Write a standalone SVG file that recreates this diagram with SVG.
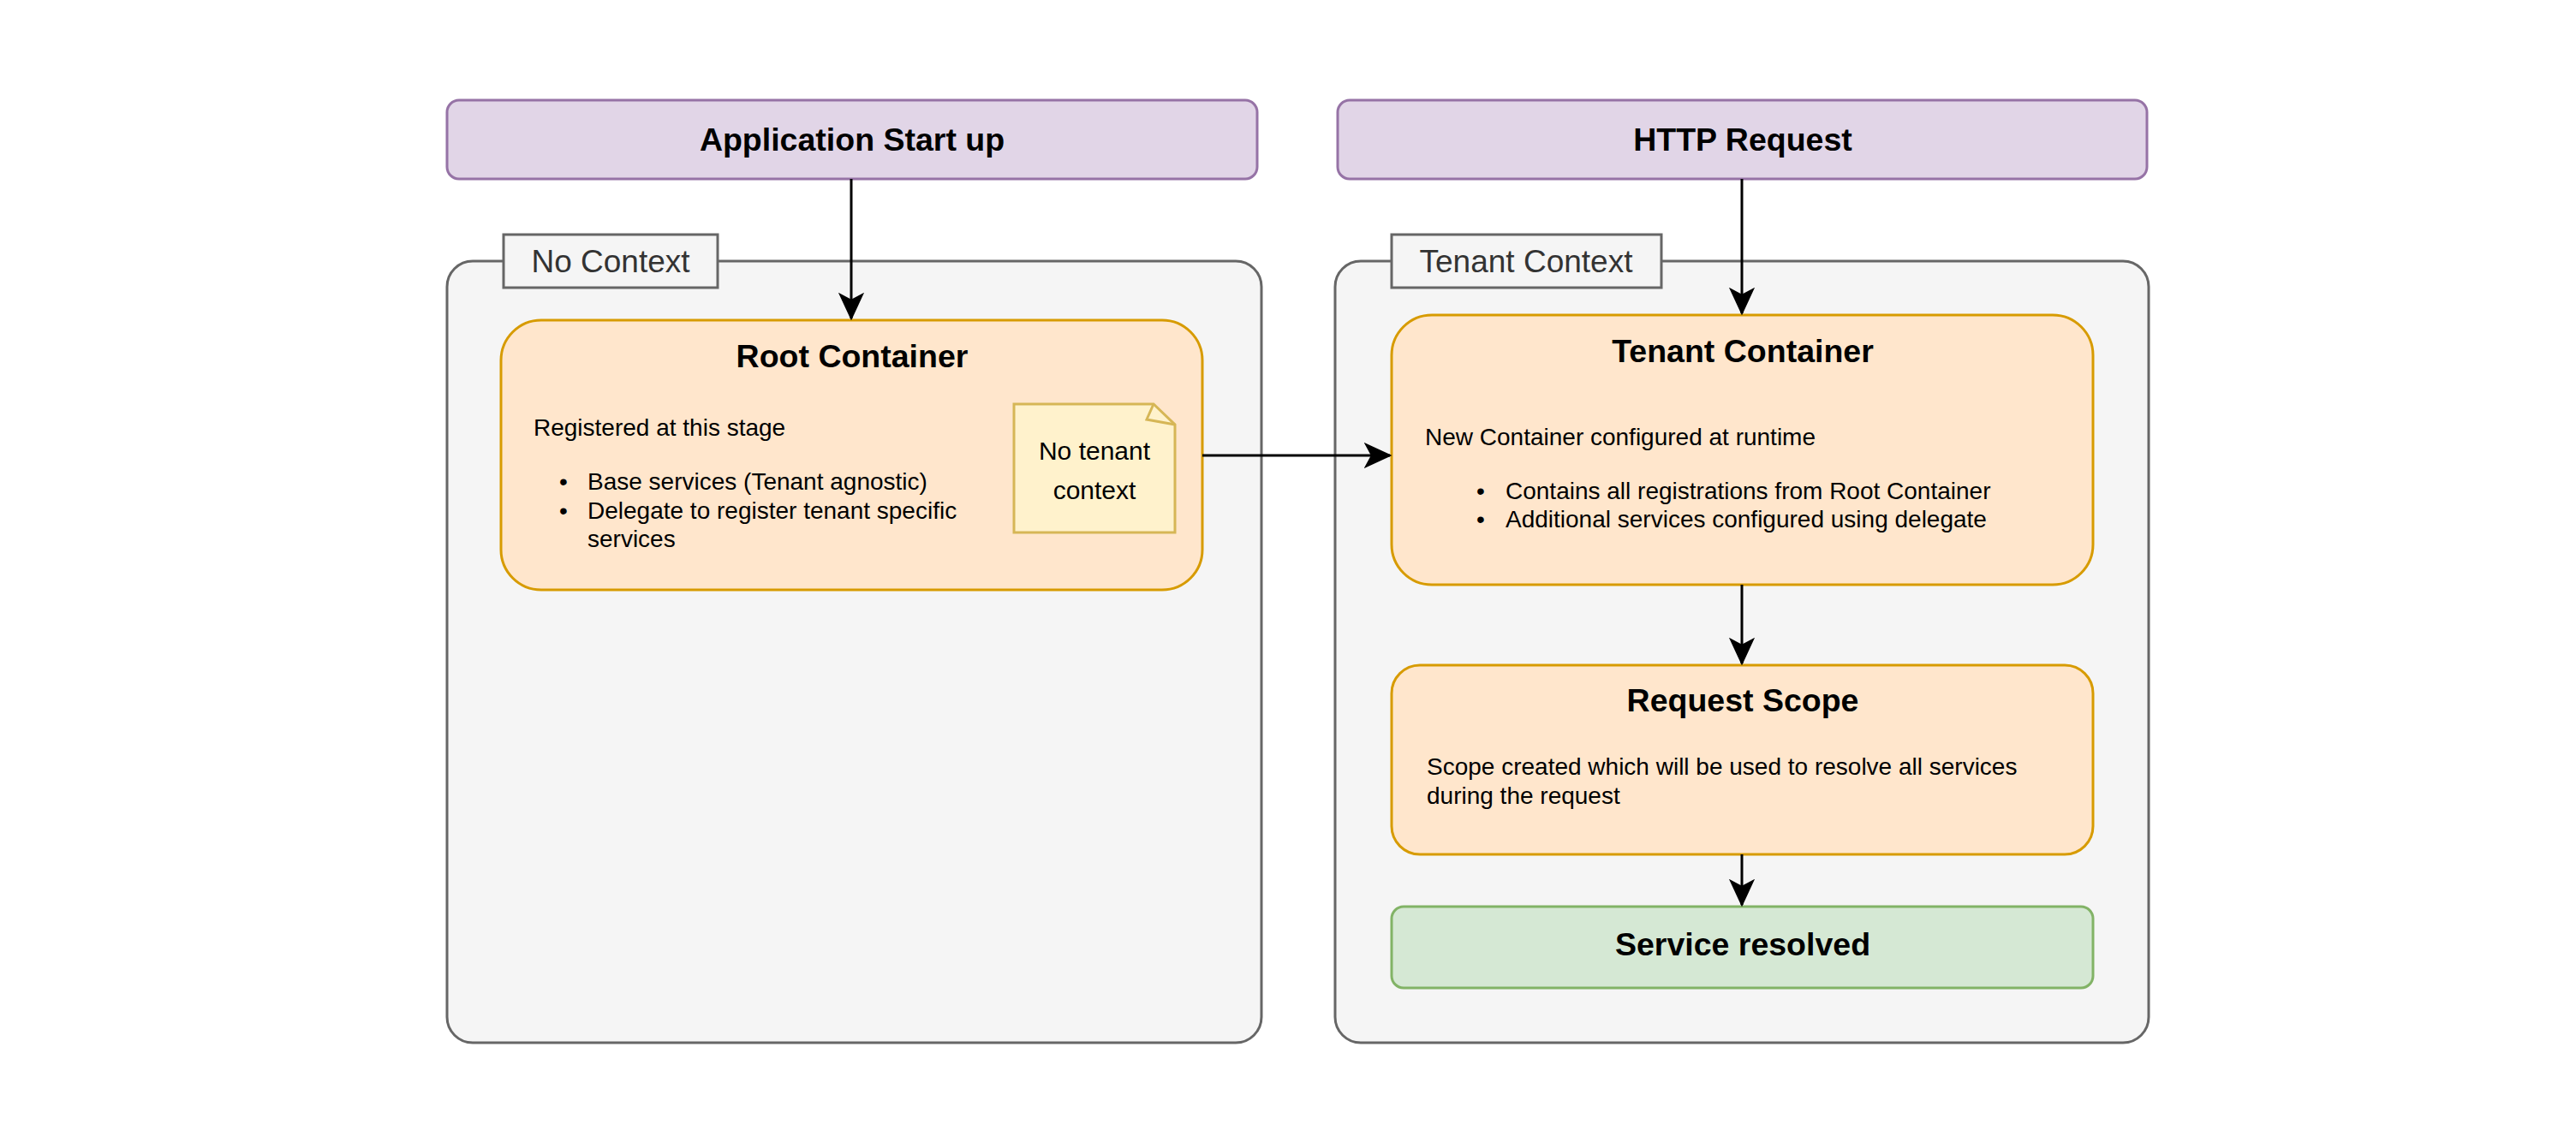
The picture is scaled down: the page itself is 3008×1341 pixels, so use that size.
<svg xmlns="http://www.w3.org/2000/svg" width="3008" height="1341" viewBox="0 0 3008 1341">
<style>
text{font-family:"Liberation Sans",Arial,sans-serif;fill:#000}
.title{font-size:37.5px;font-weight:bold;text-anchor:middle}
.body{font-size:28px}
.lbl{font-size:37px;fill:#333333;text-anchor:middle}
.note{font-size:30px;text-anchor:middle}
.purple{fill:#e1d5e7;stroke:#9673a6;stroke-width:3}
.orange{fill:#ffe6cc;stroke:#d79b00;stroke-width:3}
.green{fill:#d5e8d4;stroke:#82b366;stroke-width:3}
.cont{fill:#f5f5f5;stroke:#666666;stroke-width:3}
.edge{fill:none;stroke:#000;stroke-width:3;marker-end:url(#arr)}
</style>
<defs>
<marker id="arr" viewBox="-30 -15 32 30" refX="0" refY="0" markerWidth="32" markerHeight="30" markerUnits="userSpaceOnUse" orient="auto">
<path d="M0,0 L-28,-13 L-21,0 L-28,13 Z" fill="#000" stroke="#000" stroke-width="2"/>
</marker>
</defs>
<rect width="3008" height="1341" fill="#ffffff"/>

<g id="no-context">
<rect class="cont" x="522" y="305" width="951" height="913" rx="30"/>
<rect class="cont" x="588" y="274" width="250" height="62"/>
<text class="lbl" x="713" y="318">No Context</text>
</g>

<g id="tenant-context">
<rect class="cont" x="1559" y="305" width="950" height="913" rx="30"/>
<rect class="cont" x="1625" y="274" width="315" height="62"/>
<text class="lbl" x="1782" y="318">Tenant Context</text>
</g>

<g id="app-startup">
<rect class="purple" x="522" y="117" width="946" height="92" rx="14"/>
<text class="title" x="995" y="176">Application Start up</text>
</g>

<g id="http-request">
<rect class="purple" x="1562" y="117" width="945" height="92" rx="14"/>
<text class="title" x="2035" y="176">HTTP Request</text>
</g>

<g id="root-container">
<rect class="orange" x="585" y="374" width="819" height="315" rx="47"/>
<text class="title" x="995" y="429">Root Container</text>
<text class="body" x="623" y="509">Registered at this stage</text>
<text class="body" x="653" y="572">•</text>
<text class="body" x="686" y="572">Base services (Tenant agnostic)</text>
<text class="body" x="653" y="606">•</text>
<text class="body" x="686" y="606">Delegate to register tenant specific</text>
<text class="body" x="686" y="639">services</text>
</g>

<g id="note">
<path d="M1184,472 H1347 L1372,496 V622 H1184 Z" fill="#fff2cc" stroke="#d6b656" stroke-width="3"/>
<path d="M1347,472 L1339,490 L1372,496" fill="none" stroke="#d6b656" stroke-width="3"/>
<text class="note" x="1278" y="537">No tenant</text>
<text class="note" x="1278" y="583">context</text>
</g>

<g id="tenant-container">
<rect class="orange" x="1625" y="368" width="819" height="315" rx="47"/>
<text class="title" x="2035" y="423">Tenant Container</text>
<text class="body" x="1664" y="520">New Container configured at runtime</text>
<text class="body" x="1724" y="583">•</text>
<text class="body" x="1758" y="583">Contains all registrations from Root Container</text>
<text class="body" x="1724" y="616">•</text>
<text class="body" x="1758" y="616">Additional services configured using delegate</text>
</g>

<g id="request-scope">
<rect class="orange" x="1625" y="777" width="819" height="221" rx="33"/>
<text class="title" x="2035" y="831">Request Scope</text>
<text class="body" x="1666" y="905">Scope created which will be used to resolve all services</text>
<text class="body" x="1666" y="939">during the request</text>
</g>

<g id="service-resolved">
<rect class="green" x="1625" y="1059" width="819" height="95" rx="14"/>
<text class="title" x="2035" y="1116">Service resolved</text>
</g>

<g id="connectors">
<path class="edge" d="M994,209 V372"/>
<path class="edge" d="M2034,209 V366"/>
<path class="edge" d="M1404,532 H1623"/>
<path class="edge" d="M2034,683 V775"/>
<path class="edge" d="M2034,998 V1057"/>
</g>
</svg>
